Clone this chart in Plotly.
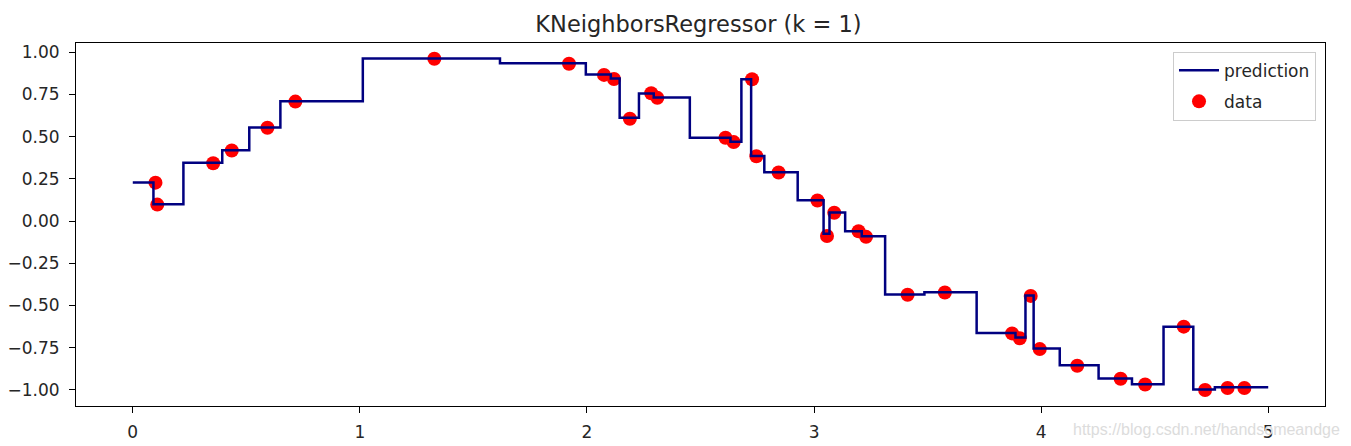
import plotly.graph_objects as go

# Data points
data_x = [0.100, 0.108, 0.354, 0.436, 0.593, 0.716, 1.328, 1.921, 2.075, 2.119,
          2.189, 2.283, 2.310, 2.610, 2.646, 2.727, 2.746, 2.844, 3.015, 3.057,
          3.089, 3.196, 3.229, 3.412, 3.576, 3.872, 3.906, 3.954, 3.994, 4.159,
          4.350, 4.458, 4.628, 4.722, 4.821, 4.895]
data_y = [0.228, 0.098, 0.343, 0.418, 0.553, 0.708, 0.962, 0.932, 0.866, 0.842,
          0.606, 0.757, 0.730, 0.494, 0.468, 0.840, 0.384, 0.288, 0.122, -0.088,
          0.050, -0.060, -0.093, -0.436, -0.423, -0.665, -0.694, -0.443, -0.758, -0.857,
          -0.934, -0.968, -0.625, -1.000, -0.988, -0.988]

# Prediction step function: breakpoints and levels
pred_x = [0, 0.091, 0.223, 0.394, 0.513, 0.650, 1.013, 1.617, 1.995, 2.105, 2.144,
          2.229, 2.294, 2.453, 2.632, 2.680, 2.723, 2.781, 2.928, 3.042, 3.068,
          3.137, 3.210, 3.313, 3.486, 3.716, 3.887, 3.931, 3.967, 4.082, 4.253,
          4.400, 4.539, 4.670, 4.765, 5.0]
pred_y = [0.229, 0.100, 0.345, 0.420, 0.555, 0.710, 0.963, 0.935, 0.868, 0.844, 0.612,
          0.756, 0.732, 0.494, 0.470, 0.840, 0.386, 0.290, 0.124, -0.075, 0.051,
          -0.060, -0.089, -0.434, -0.422, -0.662, -0.690, -0.440, -0.755, -0.853, -0.932,
          -0.966, -0.625, -0.997, -0.984, -0.984]

x_ticks = [0, 1, 2, 3, 4, 5]
y_ticks = [-1.0, -0.75, -0.5, -0.25, 0.0, 0.25, 0.5, 0.75, 1.0]

FONT = "DejaVu Sans"

fig = go.Figure()
fig.add_trace(go.Scatter(
    x=data_x, y=data_y, mode="markers", name="data",
    marker=dict(color="red", size=14, line=dict(width=0)),
    legendrank=2, legendgroup="d",
))
fig.add_trace(go.Scatter(
    x=pred_x, y=pred_y, mode="lines", name="prediction",
    line=dict(color="#000080", width=2.5, shape="hv"),
    legendrank=1, legendgroup="p",
))

fig.update_layout(
    width=1351, height=446,
    margin=dict(l=76, r=26, t=43, b=40, autoexpand=False),
    paper_bgcolor="white", plot_bgcolor="white",
    font=dict(family=FONT, size=17, color="#262626"),
    title=dict(text="KNeighborsRegressor (k = 1)", x=698.5 / 1351, xanchor="center",
               y=1 - 24 / 446, yanchor="middle",
               font=dict(family=FONT, size=22.5, color="#262626")),
    showlegend=True,
    legend=dict(x=0.9928, y=0.976, xanchor="right", yanchor="top",
                bgcolor="rgba(255,255,255,0.8)", bordercolor="#cccccc", borderwidth=1,
                font=dict(family=FONT, size=17, color="#262626"),
                tracegroupgap=6, itemwidth=40),
)
fig.update_xaxes(
    range=[-0.25, 5.25], tickvals=x_ticks, ticktext=[str(v) for v in x_ticks],
    showgrid=False, zeroline=False, showline=True, linecolor="black", linewidth=1,
    mirror=True, ticks="outside", ticklen=6, tickwidth=1.2, tickcolor="black",
    ticklabelstandoff=5, automargin=False,
    tickfont=dict(family=FONT, size=17, color="#262626"),
)
fig.update_yaxes(
    range=[-1.095, 1.055], tickvals=y_ticks, tickformat=".2f",
    showgrid=False, zeroline=False, showline=True, linecolor="black", linewidth=1,
    mirror=True, ticks="outside", ticklen=6, tickwidth=1.2, tickcolor="black",
    ticklabelstandoff=6, automargin=False,
    tickfont=dict(family=FONT, size=17, color="#262626"),
)

fig.add_annotation(
    text="https://blog.csdn.net/handsomeandge", xref="paper", yref="paper",
    x=1 + (1342 - 1325) / 1249, y=-(429 - 406) / 363, xanchor="right", yanchor="middle",
    showarrow=False, font=dict(family="Liberation Sans", size=16, color="#dcdcdc"),
)

fig.write_html("out.html")
